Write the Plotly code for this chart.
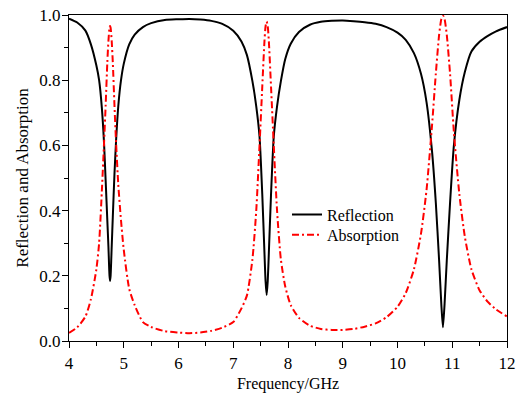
import plotly.graph_objects as go

freq = [4.00, 4.15, 4.30, 4.40, 4.50, 4.55, 4.60, 4.64, 4.67, 4.70, 4.72, 4.74, 4.75, 4.76, 4.78,
        4.80, 4.83, 4.86, 4.90, 4.95, 5.00, 5.10, 5.20, 5.35, 5.50, 5.75, 6.00, 6.20, 6.40, 6.60,
        6.80, 7.00, 7.15, 7.25, 7.35, 7.42, 7.48, 7.53, 7.57, 7.59, 7.61, 7.63, 7.65, 7.69, 7.74,
        7.80, 7.87, 7.95, 8.05, 8.20, 8.40, 8.60, 8.80, 9.00, 9.20, 9.40, 9.60, 9.80, 10.00, 10.15,
        10.30, 10.43, 10.53, 10.63, 10.70, 10.76, 10.80, 10.83, 10.86, 10.90, 10.96, 11.03, 11.13,
        11.23, 11.35, 11.50, 11.65, 11.80, 12.00]

reflection = [0.989, 0.977, 0.952, 0.910, 0.845, 0.800, 0.715, 0.607, 0.490, 0.370, 0.290, 0.200, 0.184, 0.200, 0.290,
              0.380, 0.510, 0.615, 0.720, 0.800, 0.850, 0.910, 0.940, 0.963, 0.975, 0.985, 0.987, 0.988, 0.986, 0.982,
              0.973, 0.952, 0.919, 0.877, 0.797, 0.720, 0.627, 0.450, 0.270, 0.184, 0.141, 0.184, 0.270, 0.450, 0.627,
              0.720, 0.797, 0.865, 0.912, 0.948, 0.970, 0.979, 0.982, 0.983, 0.981, 0.978, 0.973, 0.963, 0.946, 0.924,
              0.883, 0.819, 0.733, 0.583, 0.424, 0.247, 0.114, 0.042, 0.114, 0.247, 0.424, 0.600, 0.740,
              0.825, 0.888, 0.918, 0.936, 0.950, 0.963]

absorption = [0.025, 0.042, 0.075, 0.128, 0.220, 0.300, 0.460, 0.607, 0.725, 0.855, 0.920, 0.961, 0.966, 0.961, 0.920,
              0.855, 0.725, 0.607, 0.480, 0.370, 0.280, 0.160, 0.110, 0.058, 0.043, 0.030, 0.026, 0.024, 0.026, 0.031,
              0.041, 0.058, 0.100, 0.140, 0.250, 0.400, 0.600, 0.780, 0.920, 0.965, 0.980, 0.965, 0.920, 0.780, 0.600,
              0.400, 0.250, 0.167, 0.110, 0.071, 0.047, 0.037, 0.034, 0.034, 0.037, 0.044, 0.054, 0.073, 0.105, 0.147,
              0.220, 0.330, 0.463, 0.660, 0.820, 0.939, 0.987, 0.998, 0.987, 0.939, 0.820, 0.640, 0.450,
              0.320, 0.220, 0.155, 0.120, 0.097, 0.075]

x_ticks = [4, 5, 6, 7, 8, 9, 10, 11, 12]
y_ticks = [0.0, 0.2, 0.4, 0.6, 0.8, 1.0]

FONT = "Liberation Serif"

fig = go.Figure()
fig.add_trace(go.Scatter(
    x=freq, y=reflection, mode="lines", name="Reflection", legend="legend", showlegend=True,
    line=dict(color="black", width=2, shape="spline", smoothing=0.6),
))
fig.add_trace(go.Scatter(
    x=freq, y=absorption, mode="lines", name="Absorption", legend="legend2", showlegend=True,
    line=dict(color="#ff0000", width=2, dash="7px,3px,2px,3px", shape="spline", smoothing=0.6),
))

axis_common = dict(
    showline=True, linecolor="black", linewidth=1.3, mirror=True,
    ticks="outside", ticklen=6, tickwidth=1.2, tickcolor="black",
    showgrid=False, zeroline=False, automargin=False,
    tickfont=dict(family=FONT, size=17, color="black"),
)

fig.update_xaxes(
    range=[4, 12], tickvals=x_ticks, ticktext=[str(v) for v in x_ticks],
    title=dict(text="Frequency/GHz", font=dict(family=FONT, size=16, color="black"), standoff=8),
    minor=dict(ticks="outside", ticklen=4, tickwidth=1.2, tickcolor="black", dtick=0.5, showgrid=False),
    **axis_common,
)
fig.update_yaxes(
    range=[0, 1], tickvals=y_ticks, ticktext=[f"{v:.1f}" for v in y_ticks],
    title=dict(text="Reflection and Absorption", font=dict(family=FONT, size=17, color="black"), standoff=6),
    minor=dict(ticks="outside", ticklen=4, tickwidth=1.2, tickcolor="black", dtick=0.1, showgrid=False),
    ticklabelstandoff=-2,
    **axis_common,
)

legend_style = dict(
    xanchor="left", yanchor="top",
    bgcolor="rgba(0,0,0,0)", borderwidth=0,
    font=dict(family=FONT, size=16, color="black"),
    itemwidth=30, visible=True,
)

fig.update_layout(
    width=516, height=393,
    margin=dict(l=68.5, r=8.5, t=15, b=51.5),
    paper_bgcolor="white", plot_bgcolor="white",
    font=dict(family=FONT, color="black"),
    showlegend=True,
    legend=dict(x=0.4977, y=0.4395, **legend_style),
    legend2=dict(x=0.4977, y=0.378, **legend_style),
)

fig.write_html("out.html")
